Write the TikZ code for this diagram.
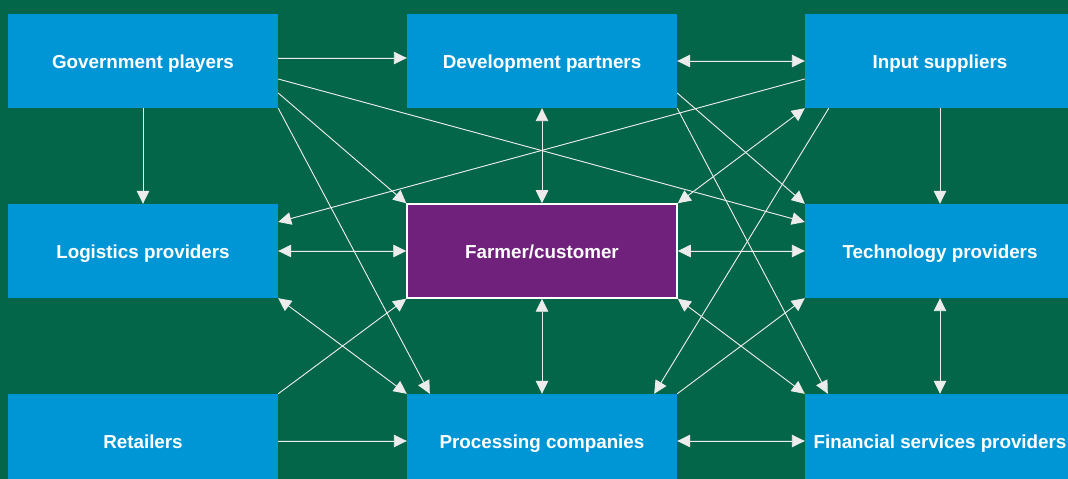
\documentclass[tikz,border=0pt]{standalone}
\usepackage{fontspec}
\setmainfont{Liberation Sans}
\usepackage{tikz}
\usetikzlibrary{arrows.meta}
\definecolor{bggreen}{RGB}{4,102,72}
\definecolor{boxblue}{RGB}{0,150,214}
\definecolor{farmpurple}{RGB}{112,33,124}
\definecolor{linkgray}{RGB}{236,236,236}
\tikzstyle{actor} = [rectangle, minimum width=270pt, minimum height=94pt, inner sep=0pt, text centered, text height=15.5pt, text depth=1.4pt, fill=boxblue, text=white, font=\bfseries\fontsize{18.8}{21}\selectfont]
\tikzstyle{customer} = [actor, fill=farmpurple, draw=white, line width=1.5pt]
\tikzstyle{arrow} = [->, >={Triangle[length=13pt,width=12.5pt]}, draw=linkgray, fill=linkgray, line width=0.9pt]
\tikzstyle{twoway} = [arrow, <->]

\begin{document}
\begin{tikzpicture}[node distance=190pt]
                \fill [bggreen] (0,0) rectangle (1068pt,479pt);
                \useasboundingbox (0,0) rectangle (1068pt,479pt);
                \clip (0,0) rectangle (1068pt,479pt);
                \node (gov) [actor] at (143pt,418pt) {Government players};
                \node (dev) [actor, right of=gov, xshift=209pt] {Development partners};
                \node (inp) [actor, right of=dev, xshift=208pt] {Input suppliers};
                \node (log) [actor, below of=gov] {Logistics providers};
                \node (farm) [customer, right of=log, xshift=209pt] {Farmer/customer};
                \node (tech) [actor, right of=farm, xshift=208pt] {Technology providers};
                \node (ret) [actor, below of=log] {Retailers};
                \node (proc) [actor, right of=ret, xshift=209pt] {Processing companies};
                \node (fin) [actor, right of=proc, xshift=208pt] {Financial services providers};
                % top row
                \draw [arrow] ([yshift=3pt]gov.east) -- ([yshift=3pt]dev.west);
                \draw [twoway] (dev.east) -- (inp.west);
                \draw [arrow] (gov.south) -- (log.north);
                \draw [arrow] (inp.south) -- (tech.north);
                \draw [arrow] ([yshift=-18pt]gov.east) -- ([yshift=29pt]tech.west);
                \draw [arrow] ([yshift=-32pt]gov.east) -- (farm.north west);
                \draw [arrow] (gov.south east) -- ([xshift=23pt]proc.north west);
                \draw [arrow] ([yshift=-18pt]inp.west) -- ([yshift=29pt]log.east);
                \draw [twoway] (farm.north east) -- (inp.south west);
                \draw [arrow] ([yshift=-32pt]dev.east) -- (tech.north west);
                \draw [arrow] (dev.south east) -- ([xshift=23pt]fin.north west);
                \draw [arrow] ([xshift=24pt]inp.south west) -- ([xshift=-23pt]proc.north east);
                \draw [twoway] (dev.south) -- (farm.north);
                % middle row
                \draw [twoway] (log.east) -- (farm.west);
                \draw [twoway] (farm.east) -- (tech.west);
                \draw [twoway] (farm.south) -- (proc.north);
                \draw [twoway] (tech.south) -- (fin.north);
                \draw [twoway] (log.south east) -- (proc.north west);
                \draw [twoway] (farm.south east) -- (fin.north west);
                % bottom row
                \draw [arrow] (ret.north east) -- (farm.south west);
                \draw [arrow] (proc.north east) -- (tech.south west);
                \draw [arrow] (ret.east) -- (proc.west);
                \draw [twoway] (proc.east) -- (fin.west);
            \end{tikzpicture}
\end{document}
